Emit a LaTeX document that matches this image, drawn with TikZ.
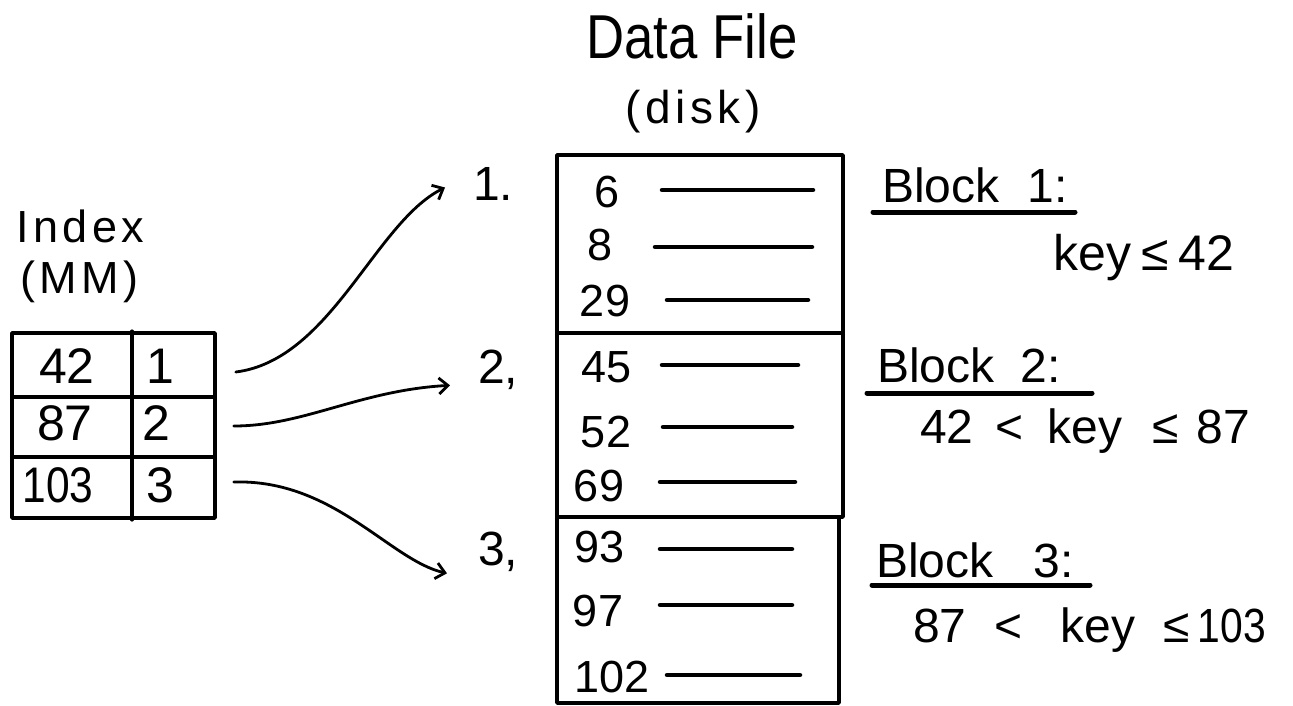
\documentclass[tikz,border=0pt]{standalone}
\usepackage{fontspec}
\setmainfont{Liberation Sans}
\newfontfamily\tight[FakeStretch=0.85]{Liberation Sans}
\newfontfamily\wide[LetterSpace=10]{Liberation Sans}
\usetikzlibrary{arrows.meta}
\begin{document}
\begin{tikzpicture}[x=1pt,y=-1pt,line cap=round,line join=round,
  frame/.style={draw,line width=3.6pt,inner sep=0pt},
  rec/.style={line width=4.5pt},
  uline/.style={line width=5pt},
  conn/.style={line width=2.8pt,-{Straight Barb[length=9pt,width=16pt,line width=2.8pt]}},
  txt/.style={inner sep=0pt,anchor=base},
  txtw/.style={inner sep=0pt,anchor=base west},
  fs/.style={font=\fontsize{#1}{#1}\selectfont}]
\useasboundingbox (0,0) rectangle (1293,705);
% titles
\node[txt,font=\tight\fontsize{62}{62}\selectfont] (title) at (692,58) {Data File};
\node[txt,font=\wide\fontsize{46}{46}\selectfont] (disk) at (693,123) {(disk)};
\node[txtw,font=\wide\fontsize{45}{45}\selectfont] (idx) at (16,242) {Index};
\node[txtw,font=\wide\fontsize{45}{45}\selectfont] (mm) at (20,293) {(M\hspace{4pt}M)};
% index table
\node[frame,minimum width=203pt,minimum height=64pt] (row1) at (113.5,365) {};
\node[frame,minimum width=203pt,minimum height=60pt] (row2) at (113.5,427) {};
\node[frame,minimum width=203pt,minimum height=61pt] (row3) at (113.5,487.5) {};
\draw[line width=3.6pt] (row1.north -| 132,0) -- (row3.south -| 132,0);
\node[txt,fs=50] (k1) at (67,383) {42};
\node[txt,fs=50] (p1) at (160,383) {1};
\node[txt,fs=50] (k2) at (65,440) {87};
\node[txt,fs=50] (p2) at (156,440) {2};
\node[txt,font=\tight\fontsize{50}{50}\selectfont] (k3) at (58,502) {103};
\node[txt,fs=50] (p3) at (160,502) {3};
% data file blocks
\node[frame,minimum width=286pt,minimum height=178pt] (blk1) at (700,244) {};
\node[frame,minimum width=286pt,minimum height=184pt] (blk2) at (700,425) {};
\node[frame,minimum width=282pt,minimum height=186pt] (blk3) at (698,610) {};
% block numbers
\node[txtw,fs=48] (n1) at (473,200) {1.};
\node[txtw,fs=48] (n2) at (478,383) {2,};
\node[txtw,fs=48] (n3) at (478,565) {3,};
% records
\node[txt,fs=45] (r1) at (607,207) {6};
\node[txt,fs=45] (r2) at (600,260) {8};
\node[txt,fs=45] (r3) at (605,316) {29};
\node[txt,fs=45] (r4) at (607,382) {45};
\node[txt,fs=45] (r5) at (606,447) {52};
\node[txt,fs=45] (r6) at (599,501) {69};
\node[txt,fs=45] (r7) at (600,562) {93};
\node[txt,fs=45] (r8) at (598,626) {97};
\node[txt,fs=45] (r9) at (612,692) {102};
\draw[rec] (662,190) -- (813,190);
\draw[rec] (655,247) -- (812,247);
\draw[rec] (667,300) -- (808,300);
\draw[rec] (662,365) -- (798,365);
\draw[rec] (663,427) -- (792,427);
\draw[rec] (660,482) -- (795,482);
\draw[rec] (660,549) -- (792,549);
\draw[rec] (660,605) -- (792,605);
\draw[rec] (667,675) -- (800,675);
% connectors
\draw[conn] ([xshift=19pt,yshift=-7pt]row1.east) .. controls +(95,-12) and +(-70,35) .. ([xshift=-28pt,yshift=-4pt]n1.west);
\draw[conn] ([xshift=17pt,yshift=1pt]row2.east) .. controls +(70,0) and +(-90,5) .. ([xshift=-28pt,yshift=-16pt]n2.west);
\draw[conn] ([xshift=17pt,yshift=5.5pt]row3.east) .. controls +(100,-3) and +(-57,-13) .. ([xshift=-31pt,yshift=-22pt]n3.west);
% block descriptions
\node[txtw,fs=48] (b1) at (882,202) {Block\hspace{28pt}1:};
\draw[uline] (873,212) -- (1075,212);
\node[txtw,fs=50] (c1) at (1053,270) {key\hspace{10pt}≤\hspace{10pt}42};
\node[txtw,fs=48] (b2) at (877,382) {Block\hspace{26pt}2:};
\draw[uline] (867,393) -- (1092,393);
\node[txtw,fs=48] (c2) at (920,443) {42\hspace{22pt}<\hspace{24pt}key\hspace{30pt}≤\hspace{18pt}87};
\node[txtw,fs=48] (b3) at (876,577) {Block\hspace{40pt}3:};
\draw[uline] (872,585) -- (1090,585);
\node[txtw,fs=48] (c3) at (913,642) {87\hspace{28pt}<\hspace{38pt}key\hspace{28pt}≤\hspace{8pt}{\tight 103}};
\end{tikzpicture}
\end{document}
